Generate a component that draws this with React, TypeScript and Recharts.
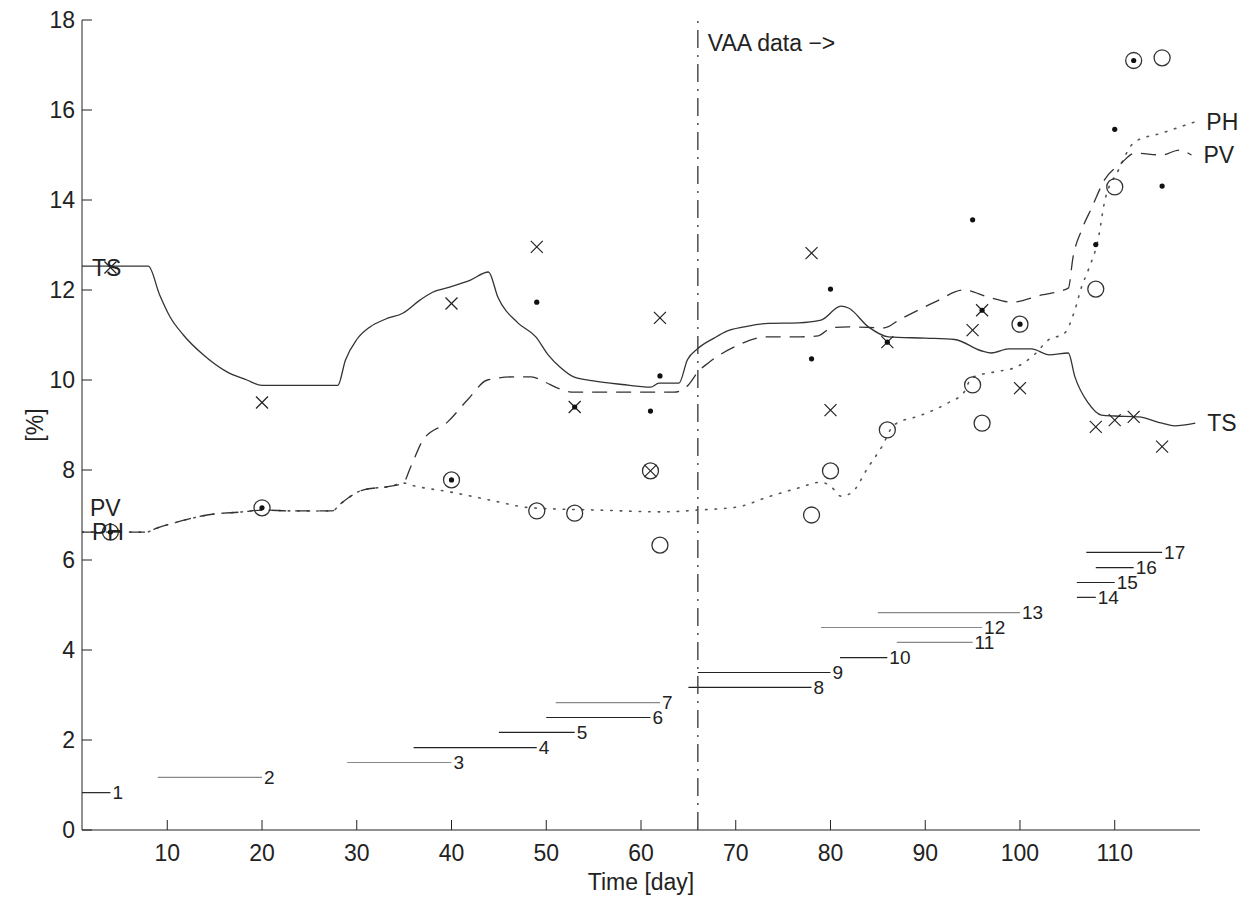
import { ComposedChart, Line, Scatter, XAxis, YAxis, ReferenceLine, ReferenceDot } from 'recharts'

// simulated curves [day, %]
const tsLine = [
  [1, 12.53], [8, 12.53], [9.2, 11.89], [10.3, 11.4], [11.7, 11.0], [13.8, 10.56], [16.3, 10.18],
  [18.4, 10.0], [20, 9.88], [28, 9.88], [28.8, 10.44], [30, 10.9], [31.4, 11.18], [33, 11.35],
  [34.9, 11.49], [36.7, 11.78], [38, 11.95], [39.9, 12.07], [42, 12.22], [43.9, 12.4], [44.9, 11.84],
  [47, 11.27], [48.9, 10.96], [50.2, 10.56], [51.5, 10.28], [52.9, 10.07], [55, 9.98], [58, 9.9],
  [61, 9.84], [61.9, 9.93], [64, 9.93], [64.9, 10.45], [66, 10.7], [67.7, 10.93], [69, 11.08],
  [70.9, 11.18], [73.4, 11.26], [76.6, 11.27], [79, 11.33], [81.1, 11.64], [81.9, 11.6], [84, 11.18],
  [86.1, 10.96], [90, 10.93], [93.1, 10.9], [95.9, 10.65], [97, 10.6], [98.8, 10.69], [101.2, 10.69],
  [103.1, 10.56], [105.1, 10.6], [105.8, 10.07], [107.2, 9.49], [108.6, 9.22], [110, 9.2],
  [112.5, 9.18], [115, 9.04], [116.3, 8.98], [118.5, 9.04],
]

const pvLine = [
  [1, 6.62], [7.8, 6.62], [8.9, 6.71], [11, 6.84], [14.2, 7.0], [18, 7.07], [20, 7.11], [23.3, 7.09],
  [27.4, 7.09], [28.3, 7.25], [29.6, 7.45], [30.7, 7.56], [33.6, 7.64], [34.9, 7.71], [35.7, 8.07],
  [37, 8.67], [39.6, 9.07], [41.7, 9.56], [43.8, 10.0], [46.6, 10.07], [48.4, 10.07], [49.8, 9.96],
  [51.2, 9.82], [52.9, 9.73], [57.1, 9.73], [63.5, 9.73], [65, 9.89], [66, 10.18], [67.1, 10.38],
  [69.8, 10.73], [73.4, 10.96], [76.9, 10.96], [78.7, 10.98], [80.1, 11.16], [81.9, 11.18],
  [85.7, 11.16], [87.2, 11.33], [91, 11.73], [94.1, 12.0], [96.7, 11.84], [99.1, 11.73],
  [102.3, 11.89], [105.1, 12.04], [105.6, 12.73], [106.5, 13.33], [107.6, 13.84], [108.9, 14.44],
  [110.7, 14.82], [112.1, 15.04], [115, 15.0], [116.8, 15.11], [118.1, 15.0],
]

const phLine = [
  [1, 6.62], [7.8, 6.62], [8.9, 6.71], [11, 6.84], [14.2, 7.0], [18, 7.07], [20, 7.11], [23.3, 7.09],
  [27.4, 7.09], [28.3, 7.25], [29.6, 7.45], [30.7, 7.56], [33.6, 7.64], [34.9, 7.71], [36, 7.65],
  [39.9, 7.51], [44.1, 7.33], [48.4, 7.16], [55.4, 7.11], [62.4, 7.07], [66, 7.11], [70.2, 7.18],
  [73.4, 7.4], [76.6, 7.6], [79, 7.73], [80.1, 7.62], [81.1, 7.42], [82.2, 7.49], [84, 8.07],
  [85.4, 8.51], [86.7, 9.0], [89.6, 9.22], [92.4, 9.49], [94.1, 9.73], [94.9, 10.05], [97.3, 10.18],
  [99.4, 10.27], [101.5, 10.56], [103, 10.89], [104.7, 11.04], [105.8, 11.56], [106.5, 12.07],
  [107.2, 12.44], [108.3, 13.18], [108.9, 13.93], [110.4, 14.67], [112.1, 15.29], [115, 15.49],
  [118.4, 15.73],
]

// measurements
const days = [4, 20, 40, 49, 53, 61, 62, 78, 80, 86, 95, 96, 100, 108, 110, 112, 115]
const tsMeasured = [12.5, 9.5, 11.7, 12.96, 9.4, 7.98, 11.38, 12.82, 9.33, 10.84, 11.11, 11.55, 9.82, 8.96, 9.11, 9.18, 8.52]
const pvMeasured = [6.62, 7.16, 7.78, 11.73, 9.4, 9.31, 10.09, 10.47, 12.02, 10.84, 13.56, 11.55, 11.24, 13.01, 15.57, 17.1, 14.31]
const phMeasured = [6.62, 7.16, 7.78, 7.09, 7.04, 7.98, 6.33, 7.0, 7.98, 8.89, 9.89, 9.04, 11.24, 12.02, 14.29, 17.1, 17.16]

// sample periods
const periodStart = [1, 9, 29, 36, 45, 50, 51, 65, 66, 81, 87, 79, 85, 106, 106, 108, 107]
const periodEnd = [4, 20, 40, 49, 53, 61, 62, 78, 80, 86, 95, 96, 100, 108, 110, 112, 115]
const periodLevel = [0.83, 1.17, 1.5, 1.83, 2.17, 2.5, 2.83, 3.17, 3.5, 3.83, 4.17, 4.5, 4.83, 5.17, 5.5, 5.83, 6.17]

const xTicks = [10, 20, 30, 40, 50, 60, 70, 80, 90, 100, 110]
const yTicks = [0, 2, 4, 6, 8, 10, 12, 14, 16, 18]
const vaaStart = 66

const toPts = (arr: number[][]) => arr.map(([day, value]) => ({ day, value }))
const toMeas = (vals: number[]) => days.map((day, i) => ({ day, value: vals[i] }))

const grayPeriods = [2, 3, 7, 11, 12, 13]
const INK = '#222'
const FONT = 23

const XTick = (props: any) => {
  const { x, y, payload } = props
  return (
    <g>
      <line x1={x} x2={x} y1={y} y2={y - 10} stroke={INK} />
      <text x={x} y={y + 31} textAnchor="middle" fontSize={FONT} fill={INK}>{payload.value}</text>
    </g>
  )
}

const YTick = (props: any) => {
  const { x, y, payload } = props
  return (
    <g>
      <line x1={x} x2={x + 10} y1={y} y2={y} stroke={INK} />
      <text x={x - 7} y={y} dy="0.35em" textAnchor="end" fontSize={FONT} fill={INK}>{payload.value}</text>
    </g>
  )
}

const Cross = (p: any) => (
  <g stroke={INK} strokeWidth={1.2}>
    <line x1={p.cx - 6} y1={p.cy - 6} x2={p.cx + 6} y2={p.cy + 6} />
    <line x1={p.cx - 6} y1={p.cy + 6} x2={p.cx + 6} y2={p.cy - 6} />
  </g>
)
const Dot = (p: any) => <circle cx={p.cx} cy={p.cy} r={2.6} fill="#111" />
const Ring = (p: any) => <circle cx={p.cx} cy={p.cy} r={8} fill="none" stroke="#333" strokeWidth={1.3} />

const lineLabel = { position: 'right' as const, offset: 12, fontSize: FONT, fill: INK }

export default function App() {
  const ts = toPts(tsLine)
  const pv = toPts(pvLine)
  const ph = toPts(phLine)
  return (
    <ComposedChart
      width={1235}
      height={892}
      margin={{ top: 12, right: 43, left: 14, bottom: 10 }}
      style={{ fontFamily: '"Liberation Sans", Arial, sans-serif' }}
    >
      <XAxis
        dataKey="day"
        type="number"
        domain={[1, 119]}
        allowDataOverflow
        ticks={xTicks}
        height={60}
        stroke={INK}
        tickLine={false}
        tickSize={0}
        tickMargin={0}
        tick={<XTick />}
        label={{ value: 'Time [day]', position: 'insideBottom', offset: 0, fontSize: FONT, fill: INK }}
      />
      <YAxis
        dataKey="value"
        type="number"
        domain={[0, 18]}
        allowDataOverflow
        ticks={yTicks}
        width={60}
        stroke={INK}
        tickLine={false}
        tickSize={0}
        tickMargin={0}
        tick={<YTick />}
        label={{ value: '[%]', angle: -90, position: 'center', dx: -17, fontSize: FONT, fill: INK }}
      />

      {periodLevel.map((lvl, i) => (
        <ReferenceLine
          key={`p${i}`}
          segment={[{ x: periodStart[i], y: lvl }, { x: periodEnd[i], y: lvl }]}
          stroke={grayPeriods.includes(i + 1) ? '#888' : '#222'}
          strokeWidth={1.2}
          label={{ value: String(i + 1), position: 'right', offset: 2, fontSize: 19, fill: INK }}
        />
      ))}

      <ReferenceLine x={vaaStart} stroke="#333" strokeWidth={1.3} strokeDasharray="18 7 2 7" />
      <ReferenceDot x={vaaStart} y={17.5} r={0} ifOverflow="visible"
        label={{ value: 'VAA data \u2212>', position: 'right', offset: 10, fontSize: FONT, fill: INK }} />

      <Line data={ph} dataKey="value" type="monotone" stroke="#555" strokeWidth={1.6}
        strokeDasharray="1.5 8" strokeLinecap="round" dot={false} isAnimationActive={false} />
      <Line data={pv} dataKey="value" type="monotone" stroke="#333" strokeWidth={1.3}
        strokeDasharray="15 9" dot={false} isAnimationActive={false} />
      <Line data={ts} dataKey="value" type="monotone" stroke="#333" strokeWidth={1.3}
        dot={false} isAnimationActive={false} />

      <Scatter data={toMeas(phMeasured)} dataKey="value" shape={(p: any) => <Ring {...p} />} isAnimationActive={false} />
      <Scatter data={toMeas(tsMeasured)} dataKey="value" shape={(p: any) => <Cross {...p} />} isAnimationActive={false} />
      <Scatter data={toMeas(pvMeasured)} dataKey="value" shape={(p: any) => <Dot {...p} />} isAnimationActive={false} />

      {/* curve names */}
      <ReferenceDot x={1} y={12.5} r={0} ifOverflow="visible" label={{ ...lineLabel, value: 'TS', offset: 10 }} />
      <ReferenceDot x={1} y={7.16} r={0} ifOverflow="visible" label={{ ...lineLabel, value: 'PV', offset: 8 }} />
      <ReferenceDot x={1} y={6.62} r={0} ifOverflow="visible" label={{ ...lineLabel, value: 'PH', offset: 10 }} />
      <ReferenceDot x={ts[ts.length - 1].day} y={ts[ts.length - 1].value} r={0} ifOverflow="visible" label={{ ...lineLabel, value: 'TS' }} />
      <ReferenceDot x={pv[pv.length - 1].day} y={pv[pv.length - 1].value} r={0} ifOverflow="visible" label={{ ...lineLabel, value: 'PV' }} />
      <ReferenceDot x={ph[ph.length - 1].day} y={ph[ph.length - 1].value} r={0} ifOverflow="visible" label={{ ...lineLabel, value: 'PH' }} />
    </ComposedChart>
  )
}
